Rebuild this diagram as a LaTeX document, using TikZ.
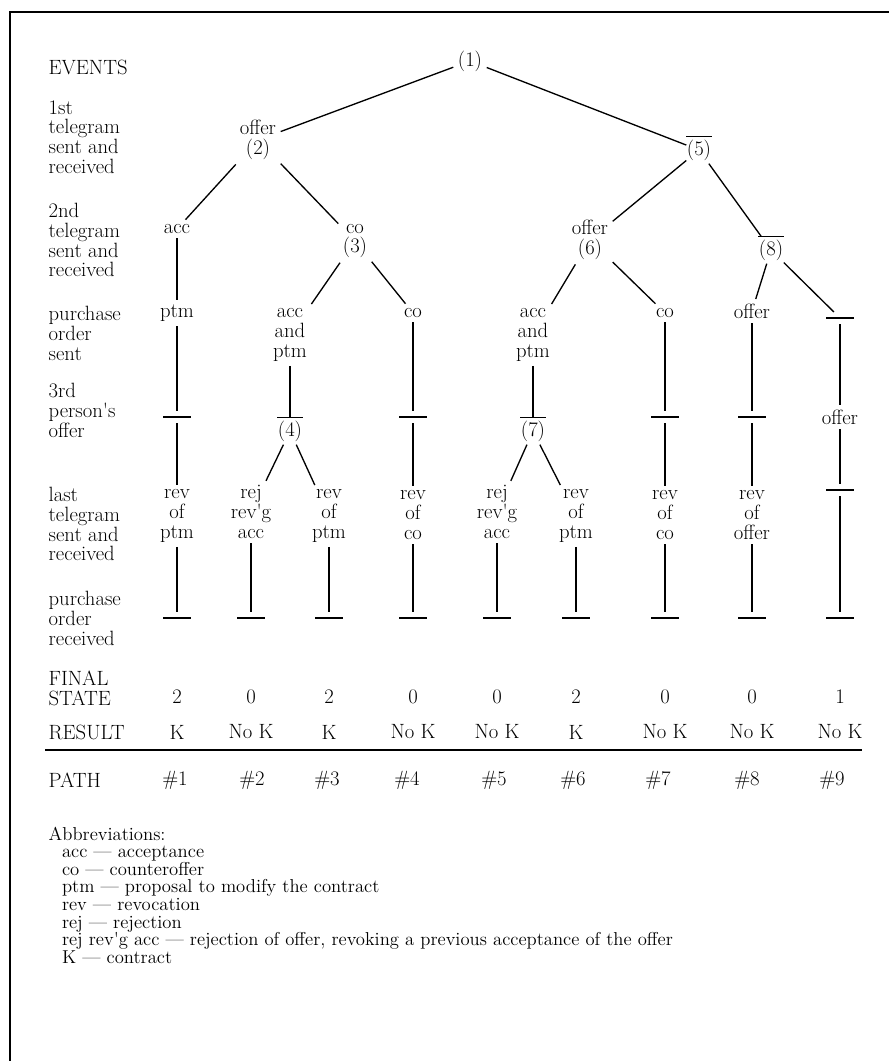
\documentclass[tikz,border=0pt]{standalone}
\usepackage{fontspec}
\usepackage{tikz}

\begin{document}
\begin{tikzpicture}[x=0.75pt,y=-0.75pt,line width=1pt,
  every node/.style={font=\fontsize{15.5}{14.8}\selectfont},
  ev/.style={align=center, inner sep=3pt},
  nix/.style={minimum width=19.5pt, minimum height=8pt, inner sep=0pt},
  nixn/.style={inner xsep=0pt, inner ysep=2pt},
  rowlbl/.style={anchor=north west, align=left, inner sep=0pt},
  abbrfont/.style={font=\fontsize{14}{13.2}\selectfont}]
  \useasboundingbox (0,0) rectangle (889,1061);
  \draw[line width=2.2pt] (10,1061) -- (10,12) -- (889,12);

  % row labels
  \node[rowlbl] (lev) at (48,59.7) {EVENTS};
  \node[rowlbl] (lfirst) at (48,99.7) {1st\\telegram\\sent and\\received};
  \node[rowlbl] (lsecond) at (48,202.7) {2nd\\telegram\\sent and\\received};
  \node[rowlbl] (lposent) at (48,305.7) {purchase\\order\\sent};
  \node[rowlbl] (lthird) at (48,382.7) {3rd\\person\textquotesingle s\\offer};
  \node[rowlbl] (llast) at (48,486.7) {last\\telegram\\sent and\\received};
  \node[rowlbl] (lporecv) at (48,590.7) {purchase\\order\\received};
  \node[rowlbl] (lfinal) at (48,670.7) {FINAL\\STATE};
  \node[rowlbl] (lresult) at (48,724.7) {RESULT};
  \node[rowlbl] (lpath) at (48,772.7) {PATH};

  % tree
  \node[ev] (n1) at (470,61) {(1)};
  \node[ev] (n2) at (258,140) {offer\\(2)};
  \node[ev,nixn] (n5) at (699,150) {(5)};
  \node[ev] (a1) at (177,229) {acc};
  \node[ev] (n3) at (355,241) {co\\(3)};
  \node[ev] (n6) at (590,240) {offer\\(6)};
  \node[ev,nixn] (n8) at (771,250) {(8)};

  \node[ev] (p1) at (177,313) {ptm};
  \node[ev] (p2) at (290,335) {acc\\and\\ptm};
  \node[ev] (p4) at (413,313) {co};
  \node[ev] (p5) at (533,335) {acc\\and\\ptm};
  \node[ev] (p7) at (665,313) {co};
  \node[ev] (p8) at (752,311) {offer};
  \node[nix] (p9) at (840,318) {};

  \node[nix] (t1) at (177,417) {};
  \node[ev,nixn] (n4) at (290,431) {(4)};
  \node[nix] (t4) at (413,417) {};
  \node[ev,nixn] (n7) at (533,431) {(7)};
  \node[nix] (t7) at (665,417) {};
  \node[nix] (t8) at (752,417) {};
  \node[ev] (t9) at (840,417) {offer};

  \node[ev] (r1) at (177,516) {rev\\of\\ptm};
  \node[ev] (r2) at (251,512) {rej\\rev\textquotesingle g\\acc};
  \node[ev] (r3) at (329,516) {rev\\of\\ptm};
  \node[ev] (r4) at (413,515) {rev\\of\\co};
  \node[ev] (r5) at (497,512) {rej\\rev\textquotesingle g\\acc};
  \node[ev] (r6) at (576,516) {rev\\of\\ptm};
  \node[ev] (r7) at (665,515) {rev\\of\\co};
  \node[ev] (r8) at (752,515) {rev\\of\\offer};
  \node[nix] (r9) at (840,490) {};

  \foreach \x [count=\i] in {177,251,329,413,497,576,665,752,840}
    \node[nix] (e\i) at (\x,618) {};

  \foreach \a/\b in {n1/n2,n1/n5,n2/a1,n2/n3,n5/n6,n5/n8,
      a1/p1,n3/p2,n3/p4,n6/p5,n6/p7,n8/p8,n8/p9,
      p1/t1,p2/n4,p4/t4,p5/n7,p7/t7,p8/t8,p9/t9,
      t1/r1,n4/r2,n4/r3,t4/r4,n7/r5,n7/r6,t7/r7,t8/r8,t9/r9}
    \draw (\a) -- (\b);
  \foreach \i in {1,...,9}
    \draw (r\i) -- (e\i);

  % empty events
  \foreach \b in {p9,t1,t4,t7,t8,r9}
    \draw (\b.west) -- (\b.east);
  \foreach \i in {1,...,9}
    \draw (e\i.west) -- (e\i.east);
  \foreach \b in {n4,n5,n7,n8}
    \draw (\b.north west) -- (\b.north east);

  % outcomes
  \foreach \x/\s/\r [count=\i] in {177/2/K,251/0/No K,329/2/K,413/0/No K,497/0/No K,
      576/2/K,665/0/No K,752/0/No K,840/1/No K} {
    \node (s\i) at (\x,697) {\s};
    \node (k\i) at (\x,732) {\r};
  }
  \draw (45,750) -- (862,750);
  \foreach \x [count=\i] in {175,252,327,407,494,573,658,747,832}
    \node (h\i) at (\x,780) {\#\i};

  \node[rowlbl,abbrfont] (abbr) at (48,826) {Abbreviations:\\
    \hspace*{10pt}acc --- acceptance\\
    \hspace*{10pt}co --- counteroffer\\
    \hspace*{10pt}ptm --- proposal to modify the contract\\
    \hspace*{10pt}rev --- revocation\\
    \hspace*{10pt}rej --- rejection\\
    \hspace*{10pt}rej rev\textquotesingle g acc --- rejection of offer, revoking a previous acceptance of the offer\\
    \hspace*{10pt}K --- contract};
\end{tikzpicture}
\end{document}
